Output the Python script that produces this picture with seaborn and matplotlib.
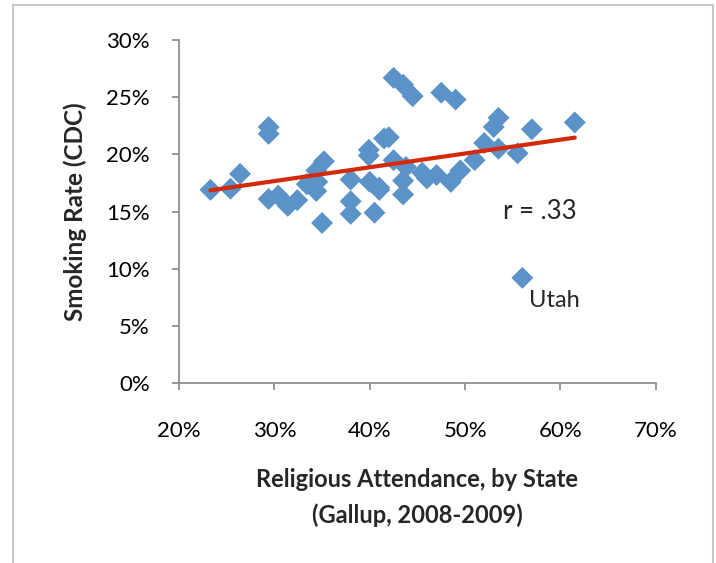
import numpy as np
import pandas as pd
import seaborn as sns
import matplotlib.pyplot as plt
from matplotlib.patches import Rectangle
from matplotlib.ticker import PercentFormatter

# religious attendance (%) and smoking rate (%) per state
attendance = [23.3, 25.4, 26.4, 29.4, 29.4, 29.4, 30.4, 31.4, 32.4, 33.4,
              34.4, 34.5, 34.4, 35.2, 35.0, 38.0, 38.0, 38.0, 39.9, 39.9,
              40.0, 41.0, 40.5, 41.5, 42.0, 42.5, 43.5, 44.5, 42.5, 43.8,
              43.5, 43.5, 45.5, 46.0, 47.0, 47.5, 49.0, 48.5, 49.5, 51.0,
              52.0, 53.0, 53.5, 53.5, 55.5, 57.0, 61.5, 56.0, 34.0, 41.0]
smoking = [16.9, 17.0, 18.3, 22.4, 21.8, 16.1, 16.4, 15.5, 16.0, 17.4,
           16.8, 17.6, 18.6, 19.4, 14.0, 17.8, 15.9, 14.8, 20.4, 19.9,
           17.6, 16.9, 14.9, 21.4, 21.5, 26.7, 26.1, 25.1, 19.5, 18.9,
           17.7, 16.5, 18.4, 17.9, 18.2, 25.4, 24.8, 17.6, 18.6, 19.5,
           21.0, 22.4, 23.2, 20.5, 20.1, 22.2, 22.8, 9.2, 17.3, 17.1]

df = pd.DataFrame({"attendance": attendance, "smoking": smoking})

sns.set_style("white")
plt.rcParams['font.family'] = ['Lato', 'DejaVu Sans']

fig = plt.figure(figsize=(7.16, 5.63), dpi=100)
ax = fig.add_axes([0.25, 0.3197, 0.666, 0.609])

sns.scatterplot(data=df, x="attendance", y="smoking", marker="D", s=125,
                color="#5B93C8", edgecolor="none", ax=ax, zorder=2)
sns.regplot(data=df, x="attendance", y="smoking", scatter=False, ci=None,
            truncate=True, line_kws={"color": "#D42A0C", "lw": 3, "zorder": 3},
            ax=ax)

ax.set_xlim(20, 70)
ax.set_ylim(0, 30)
ax.set_xticks(range(20, 71, 10))
ax.set_yticks(range(0, 31, 5))
ax.xaxis.set_major_formatter(PercentFormatter(decimals=0))
ax.yaxis.set_major_formatter(PercentFormatter(decimals=0))

for s in ["top", "right"]:
    ax.spines[s].set_visible(False)
for s in ["left", "bottom"]:
    ax.spines[s].set_color("#888888")
    ax.spines[s].set_linewidth(1.2)
ax.tick_params(axis="both", direction="out", length=5, width=1.2,
               color="#888888", labelsize=16, labelcolor="black")
ax.tick_params(axis="x", pad=22, bottom=True)
ax.tick_params(axis="y", pad=16, left=True)

ax.set_xlabel("Religious Attendance, by State\n(Gallup, 2008-2009)",
              fontsize=17, fontweight="bold", labelpad=20, linespacing=1.6)
ax.set_ylabel("Smoking Rate (CDC)", fontsize=17.5, fontweight="bold", labelpad=14)

ax.text(54.0, 15.05, "r = .33", fontsize=18.5, ha="left", va="center")
ax.text(56.7, 7.26, "Utah", fontsize=17, ha="left", va="center")

fig.patches.append(Rectangle((13 / 716, -0.05), 700 / 716, 1.05 - 5 / 563,
                             transform=fig.transFigure, fill=False,
                             edgecolor="#C8C8C8", lw=1.5))

fig.savefig("out.png", dpi=100)
